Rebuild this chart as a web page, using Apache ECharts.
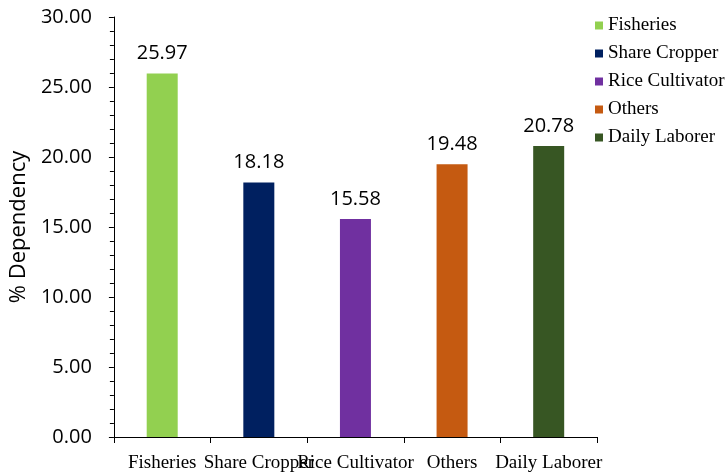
<!DOCTYPE html>
<html>
<head>
<meta charset="utf-8">
<script src="https://cdn.jsdelivr.net/npm/echarts@6/dist/echarts.min.js"></script>
<style>
  html, body { margin: 0; padding: 0; background: #fff; }
  #chart { width: 728px; height: 476px; }
</style>
</head>
<body>
<div id="chart"></div>
<script>
// Livelihood groups and their share of dependency (%)
const categories = ['Fisheries', 'Share Cropper', 'Rice Cultivator', 'Others', 'Daily Laborer'];
const values = [25.97, 18.18, 15.58, 19.48, 20.78];
const colors = ['#92D050', '#002060', '#7030A0', '#C55A11', '#375623'];
const yTicks = { min: 0, max: 30, interval: 5 };

const sansFont = '"Open Sans", "Liberation Sans", sans-serif';
const serifFont = '"Liberation Serif", "DejaVu Serif", serif';

// One series per group so each gets its own legend entry; stacking keeps bars centred.
const series = categories.map((name, i) => ({
  name: name,
  type: 'bar',
  stack: 'groups',
  barWidth: 31,
  itemStyle: { color: colors[i] },
  label: {
    show: true,
    position: 'top',
    distance: 10,
    formatter: p => Number(p.value).toFixed(2),
    fontFamily: sansFont,
    fontSize: 20,
    color: '#000'
  },
  data: categories.map((c, j) => (j === i ? values[i] : '-'))
}));

const chart = echarts.init(document.getElementById('chart'), null, { renderer: 'canvas' });
chart.setOption({
  animation: false,
  backgroundColor: '#fff',
  grid: { left: 113, right: 131, top: 17, bottom: 39, containLabel: false },
  legend: {
    orient: 'vertical',
    left: 595,
    top: 16,
    padding: 0,
    itemWidth: 8,
    itemHeight: 8,
    itemGap: 9,
    icon: 'rect',
    textStyle: { fontFamily: serifFont, fontSize: 19, color: '#000' },
    data: categories
  },
  xAxis: {
    type: 'category',
    data: categories,
    axisLine: { lineStyle: { color: '#000', width: 1 } },
    axisTick: { show: true, length: 6, lineStyle: { color: '#000' } },
    axisLabel: {
      interval: 0,
      margin: 17,
      fontFamily: serifFont,
      fontSize: 19,
      color: '#000'
    }
  },
  yAxis: {
    type: 'value',
    min: yTicks.min,
    max: yTicks.max,
    interval: yTicks.interval,
    name: '% Dependency',
    nameLocation: 'middle',
    nameGap: 82,
    nameTextStyle: { fontFamily: sansFont, fontSize: 22, color: '#000' },
    axisLine: { show: true, lineStyle: { color: '#000', width: 1 } },
    axisTick: { show: true, length: 5, lineStyle: { color: '#000' } },
    minorTick: { show: true, splitNumber: 5, length: 4, lineStyle: { color: '#000' } },
    splitLine: { show: false },
    axisLabel: {
      margin: 22,
      formatter: v => v.toFixed(2),
      fontFamily: sansFont,
      fontSize: 20,
      color: '#000'
    }
  },
  series: series
});
</script>
</body>
</html>
